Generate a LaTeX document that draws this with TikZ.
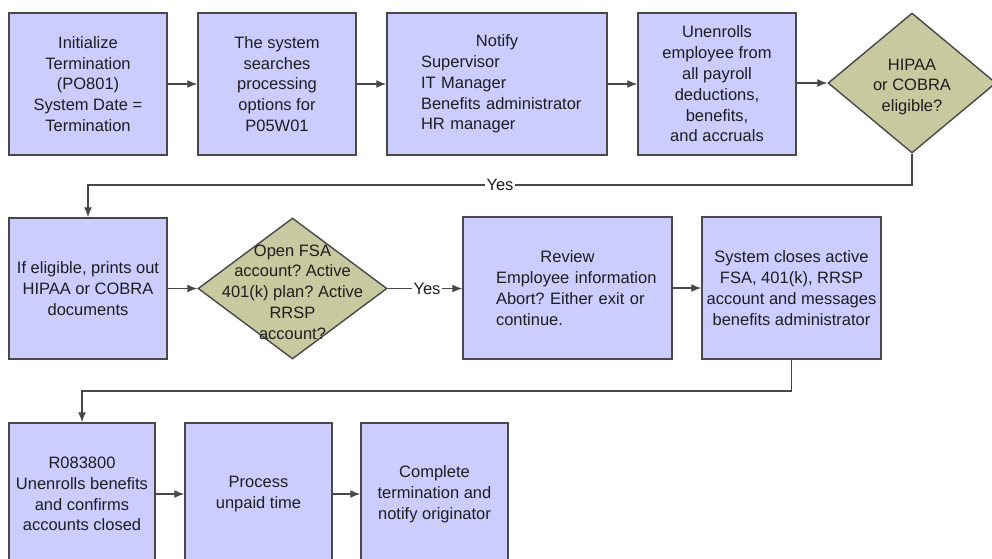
\documentclass[tikz,border=0pt]{standalone}
\usepackage{fontspec}
\setmainfont{Liberation Sans}
\usetikzlibrary{shapes.geometric,arrows.meta}
\definecolor{boxfill}{RGB}{204,204,255}
\definecolor{dfill}{RGB}{201,201,160}
\definecolor{edge}{RGB}{72,72,72}
\definecolor{ink}{RGB}{30,30,30}
\newcommand{\tfont}{\fontsize{16.5}{20.8}\selectfont\frenchspacing}
\begin{document}
\begin{tikzpicture}[x=1pt,y=-1pt,
  box/.style={draw=edge,line width=1.5pt,fill=boxfill,minimum height=142pt,inner sep=2pt,align=center,font=\tfont,text=ink},
  dia/.style={diamond,draw=edge,line width=1.4pt,fill=dfill,inner sep=0pt},
  txt/.style={align=center,font=\tfont,inner sep=0pt,text=ink},
  arr/.style={draw=edge,line width=1.4pt,-{Latex[length=10pt,width=8pt]}},
  lbl/.style={fill=white,inner sep=1.5pt,font=\tfont,text=ink}]
\useasboundingbox (0,0) rectangle (992,558);
\clip (0,0) rectangle (992,558);
\fill[white] (0,0) rectangle (992,558);

% row 1
\node[box,minimum width=158pt] (b1) at (88,84) {Initialize\\Termination\\(PO801)\\System Date =\\Termination};
\node[box,minimum width=158pt] (b2) at (277,84) {The system\\searches\\processing\\options for\\P05W01};
\node[box,minimum width=220pt,text width=186pt,align=left] (b3) at (497,84)
  {\centering Notify\par\raggedright\leftskip=17pt Supervisor\\IT Manager\\Benefits administrator\\HR manager\par};
\node[box,minimum width=158pt] (b4) at (717,84) {Unenrolls\\employee from\\all payroll\\deductions,\\benefits,\\and accruals};
\node[dia,minimum width=168pt,minimum height=140pt] (d1) at (912,83) {};
\node[txt] (t1) at (912,87) {HIPAA\\or COBRA\\eligible?};

% row 2
\node[box,minimum width=158pt,minimum height=141pt] (b5) at (88,288.5) {If eligible, prints out\\HIPAA or COBRA\\documents};
\node[dia,minimum width=189pt,minimum height=141pt] (d2) at (292.5,288.5) {};
\node[txt] (t2) at (292.5,292) {Open FSA\\account? Active\\401(k) plan? Active\\RRSP\\account?};
\node[box,minimum width=209pt,text width=185pt,align=left] (b6) at (567.5,288)
  {\centering Review\par\raggedright\leftskip=21pt Employee information\\Abort? Either exit or\\continue.\par};
\node[box,minimum width=179pt] (b7) at (791.5,288) {System closes active\\FSA, 401(k), RRSP\\account and messages\\benefits administrator};

% row 3
\node[box,minimum width=146pt] (b8) at (82,494) {R083800\\Unenrolls benefits\\and confirms\\accounts closed};
\node[box,minimum width=147pt] (b9) at (258.5,494) {Process\\unpaid time};
\node[box,minimum width=147pt] (b10) at (434.5,494) {Complete\\termination and\\notify originator};

% connectors
\draw[arr] (b1) -- (b2);
\draw[arr] (b2) -- (b3);
\draw[arr] (b3) -- (b4);
\draw[arr] (b4.east |- d1.west) -- (d1.west);

\coordinate (yrow1) at (0,185);
\draw[arr] (d1.south) |- (b5.north |- yrow1) -- (b5.north);
\node[lbl] (yes1) at (500,185) {Yes};

\draw[arr] (b5.east |- d2.west) -- (d2.west);
\draw[arr] (d2.east) -- (b6.west |- d2.east);
\node[lbl] (yes2) at (427,288.5) {Yes};
\draw[arr] (b6.east |- b7.west) -- (b7.west);

\coordinate (yrow2) at (0,391);
\draw[arr] (b7.south) |- (b8.north |- yrow2) -- (b8.north);

\draw[arr] (b8) -- (b9);
\draw[arr] (b9) -- (b10);
\end{tikzpicture}
\end{document}
